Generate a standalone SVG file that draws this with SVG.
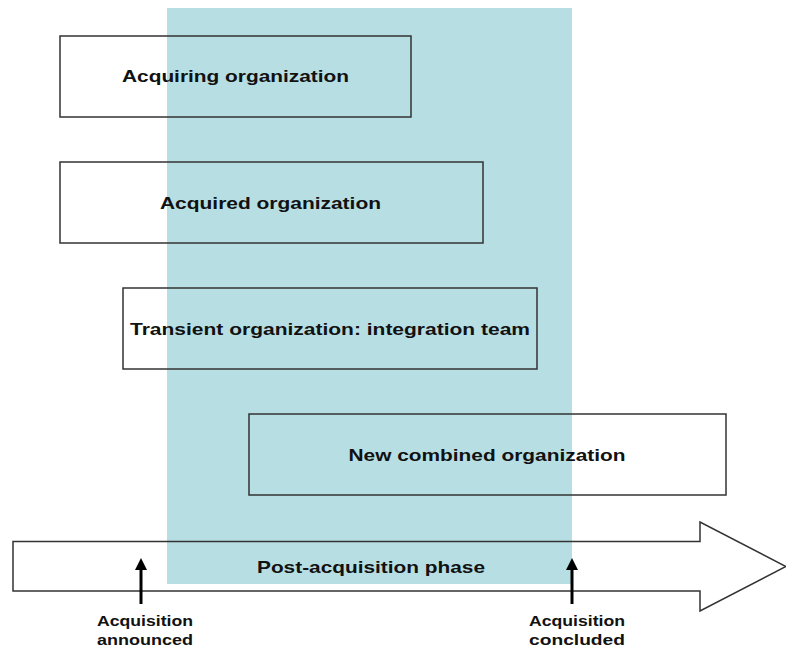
<svg xmlns="http://www.w3.org/2000/svg" width="786" height="648" viewBox="0 0 786 648">
<style>
.box{fill:none;stroke:#333;stroke-width:1.5}
.t{font-family:"Liberation Sans",Arial,sans-serif;font-weight:bold;fill:#111;text-anchor:middle}
.big{font-size:17px}
.small{font-size:15px}
</style>
<defs>
<marker id="ah" markerWidth="12" markerHeight="12" refX="0" refY="6" orient="auto" markerUnits="userSpaceOnUse" viewBox="0 0 12 12">
<path d="M0,0 L12,6 L0,12 Z" fill="#000"/>
</marker>
</defs>
<rect width="786" height="648" fill="#fff"/>
<g id="timeline-fill">
<path d="M13,541.5 H700 V522 L786,566.5 L700,611 V591 H13 Z" fill="#fff"/>
</g>
<g id="phase">
<rect x="167" y="8" width="405" height="576" fill="#b7dee3"/>
</g>
<g id="timeline">
<path d="M13,541.5 H700 V522 L786,566.5 L700,611 V591 H13 Z" fill="none" stroke="#333" stroke-width="1.5"/>
<text class="t big" x="371" y="573" textLength="228" lengthAdjust="spacingAndGlyphs">Post-acquisition phase</text>
</g>
<g id="acquiring">
<rect class="box" x="60" y="36" width="351" height="81"/>
<text class="t big" x="235.5" y="82" textLength="227" lengthAdjust="spacingAndGlyphs">Acquiring organization</text>
</g>
<g id="acquired">
<rect class="box" x="60" y="162" width="423" height="81"/>
<text class="t big" x="270.5" y="209" textLength="221" lengthAdjust="spacingAndGlyphs">Acquired organization</text>
</g>
<g id="transient">
<rect class="box" x="123" y="288" width="414" height="81"/>
<text class="t big" x="330" y="335" textLength="400" lengthAdjust="spacingAndGlyphs">Transient organization: integration team</text>
</g>
<g id="combined">
<rect class="box" x="249" y="414" width="477" height="81"/>
<text class="t big" x="487" y="461" textLength="277" lengthAdjust="spacingAndGlyphs">New combined organization</text>
</g>
<g id="connectors">
<line x1="141" y1="604" x2="141" y2="570" stroke="#000" stroke-width="3" marker-end="url(#ah)"/>
<line x1="572" y1="604" x2="572" y2="570" stroke="#000" stroke-width="3" marker-end="url(#ah)"/>
</g>
<g id="announced">
<text class="t small" x="145" y="626" textLength="96" lengthAdjust="spacingAndGlyphs">Acquisition</text>
<text class="t small" x="145" y="645" textLength="96" lengthAdjust="spacingAndGlyphs">announced</text>
</g>
<g id="concluded">
<text class="t small" x="577" y="626" textLength="96" lengthAdjust="spacingAndGlyphs">Acquisition</text>
<text class="t small" x="577" y="645" textLength="96" lengthAdjust="spacingAndGlyphs">concluded</text>
</g>
</svg>
